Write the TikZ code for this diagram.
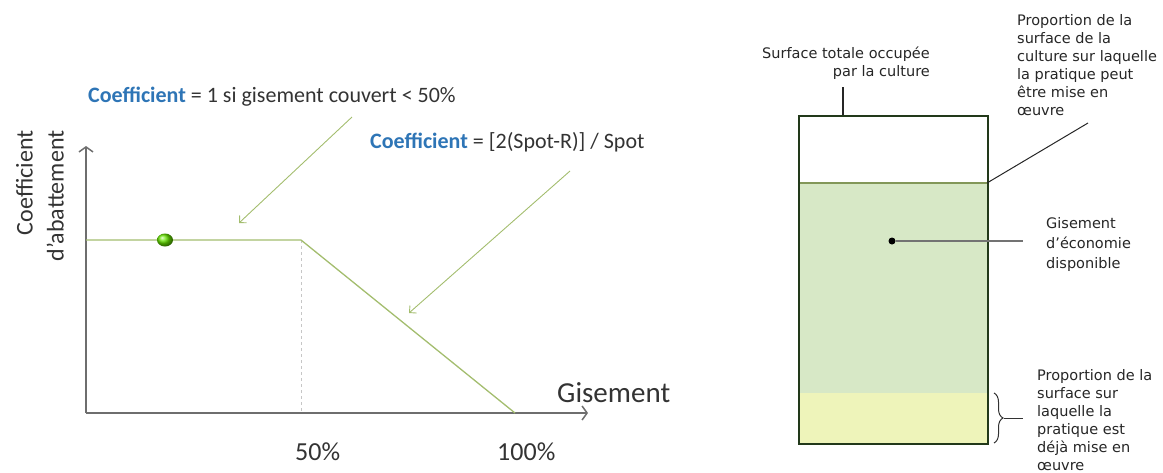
\documentclass[tikz,border=0pt]{standalone}
\usepackage{fontspec}
\setmainfont{Carlito}
\newfontfamily\verd{DejaVu Sans}
\usepackage{tikz}
\usetikzlibrary{positioning,calc,arrows.meta,shapes.geometric,decorations.pathreplacing}
\definecolor{coefblue}{HTML}{2E75B6}
\definecolor{courbe}{HTML}{A3BD6E}
\definecolor{gisvert}{HTML}{D7E8C6}
\definecolor{gisjaune}{HTML}{EEF4BA}
\definecolor{bord}{HTML}{22391A}
\definecolor{axegris}{HTML}{6E6E6E}
\tikzset{
	axe/.style={draw=axegris,line width=1.5pt,-{Straight Barb[length=5pt,width=14pt]}},
	fleche/.style={draw=courbe,line width=0.9pt,-{Straight Barb[length=5pt,width=10pt]}},
	petit/.style={font=\verd\fontsize{14.5}{18}\selectfont,align=left,inner sep=0pt,text=black!85}
}
\begin{document}
\begin{tikzpicture}[x=1pt,y=-1pt]
		\useasboundingbox (0,0) rectangle (1163,472);
		\coordinate (o) at (86,413);
		\coordinate (p0) at (86,240);
		\coordinate (p50) at (301,240);
		\coordinate (p100) at (515,413);
		\coordinate[shift={(0,173)}] (b50) at (p50);
		\draw[axe] (o)--++(0,-267) coordinate (ytop);
		\draw[axe] (o)--++(502,0) coordinate (xend);
		\draw[gray!45,dashed,line width=0.8pt] (p50)--(b50);
		\draw[courbe,line width=1.3pt] (p0)--(p50)--(p100);
		\node[ellipse,shading=ball,ball color=green!55!yellow!90!black,minimum width=16pt,minimum height=13pt,inner sep=0pt] (bille) at (165,240) {};
		
		\node[rotate=90,anchor=east,align=right,font=\fontsize{24}{31}\selectfont,text=black!80] (ylab) at (40,127) {Coefficient\\d’abattement};
		\node[anchor=base west,inner sep=0pt,font=\fontsize{29}{32}\selectfont,text=black!80] (xlab) at (557,402) {Gisement};
		\node[anchor=base west,inner sep=0pt,font=\fontsize{26}{30}\selectfont,text=black!80] (l50) at (295,460) {50\%};
		\node[anchor=base west,inner sep=0pt,font=\fontsize{26}{30}\selectfont,text=black!80] (l100) at (497,460) {100\%};
		
		\node[anchor=base west,inner sep=0pt,font=\fontsize{22}{26}\selectfont,text=black!80] (titre1) at (88,102) {\textbf{\color{coefblue}Coefficient} = 1 si gisement couvert < 50\%};
		\node[anchor=base west,inner sep=0pt,font=\fontsize{22}{26}\selectfont,text=black!80] (titre2) at (370,148) {\textbf{\color{coefblue}Coefficient} = [2(Spot-R)] / Spot};
		\coordinate (f1) at (352,117);
		\coordinate (f2) at (570,171);
		\draw[fleche] (f1)--(239,223);
		\draw[fleche] (f2)--(409,313);
		
		\fill[gisvert] (798,183) rectangle (987,443);
		\fill[gisjaune] (798,393) rectangle (987,443);
		\draw[courbe!80!black,line width=1.2pt] (798,183)--(987,183) coordinate (gtop);
		\node[draw=bord,line width=2.4pt,minimum width=189pt,minimum height=328pt,anchor=north west,inner sep=0pt] (surface) at (798,115) {};
		
		\coordinate[shift={(45,0)}] (s1) at (surface.north west);
		\draw[black!85,line width=1.2pt] (s1)--++(0,-28) coordinate (s2);
		\node[petit,align=right,anchor=north east] (totale) at (930,47) {Surface totale occupée\\par la culture};
		
		\draw[black!85,line width=1pt] (gtop)--(1088,123) coordinate (pend);
		\node[petit,anchor=north west] (propa) at (1017,14) {Proportion de la\\surface de la\\culture sur laquelle\\la pratique peut\\être mise en\\œuvre};
		
		\node[circle,fill=black,inner sep=0pt,minimum size=7pt] (point) at (892,241) {};
		\draw[black!55,line width=1.4pt] (point)--(1023,241) coordinate (pfin);
		\node[petit,anchor=north west,font=\verd\fontsize{14.5}{20}\selectfont] (gis) at (1046,217) {Gisement\\d’économie\\disponible};
		
		\draw[black!80,line width=1pt,decorate,decoration={brace,amplitude=9pt}] (994,393)--(994,443);
		\coordinate (acc) at (1004,418);
		\draw[black!80,line width=1pt] (acc)--++(19,0) coordinate (accfin);
		\node[petit,anchor=north west] (propb) at (1037,369) {Proportion de la\\surface sur\\laquelle la\\pratique est\\déjà mise en\\œuvre};
\end{tikzpicture}
\end{document}
